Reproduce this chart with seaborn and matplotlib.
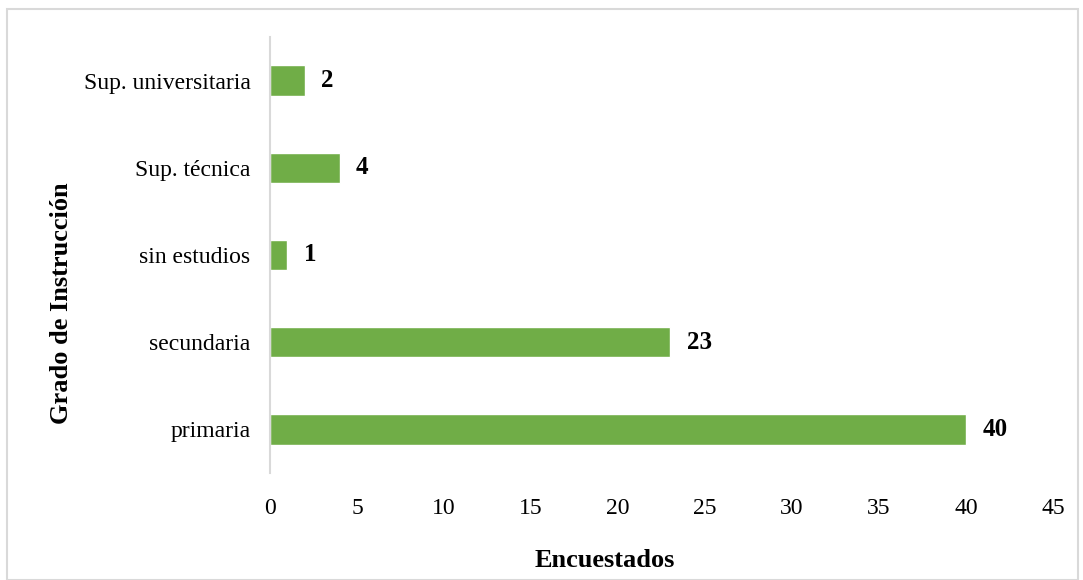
import matplotlib
matplotlib.use("Agg")
import matplotlib.pyplot as plt
import seaborn as sns
import pandas as pd
from matplotlib.patches import Rectangle

categorias = ["Sup. universitaria", "Sup. técnica", "sin estudios", "secundaria", "primaria"]
encuestados = [2, 4, 1, 23, 40]

df = pd.DataFrame({"Grado": categorias, "N": encuestados})

sns.set_style("white")
plt.rcParams['font.family'] = ['Liberation Serif', 'DejaVu Serif']
plt.rcParams['text.color'] = 'black'
plt.rcParams['axes.labelcolor'] = 'black'
plt.rcParams['xtick.color'] = 'black'
plt.rcParams['ytick.color'] = 'black'

fig = plt.figure(figsize=(10.83, 5.8), dpi=100)
ax = fig.add_axes([0.2493, 0.1845, 0.7230, 0.7517])
sns.barplot(data=df, x="N", y="Grado", ax=ax, color="#70AD47", width=0.35,
            saturation=1, order=categorias)

for i, v in enumerate(encuestados):
    ax.text(v + 0.95, i, str(v), va="center", ha="left", fontsize=18, fontweight="bold")

ax.set_xlim(0, 45)
ax.set_xticks(range(0, 46, 5))
ax.tick_params(axis="both", length=0, labelsize=17, pad=14)
ax.tick_params(axis="x", pad=18)
for s in ["top", "right", "bottom"]:
    ax.spines[s].set_visible(False)
ax.spines["left"].set_color("#D9D9D9")
ax.spines["left"].set_linewidth(1.5)

ax.set_xlabel("Encuestados", fontsize=19, fontweight="bold")
ax.xaxis.set_label_coords(0.427, -0.175)
ax.set_ylabel("Grado de Instrucción", fontsize=19, fontweight="bold")
ax.yaxis.set_label_coords(-0.252, 0.39)

fig.patches.append(Rectangle((7/1083, 0), 1071/1083, 1 - 9/580, transform=fig.transFigure,
                             fill=False, edgecolor="#D9D9D9", linewidth=1.5))

fig.savefig("out.png", dpi=100)
